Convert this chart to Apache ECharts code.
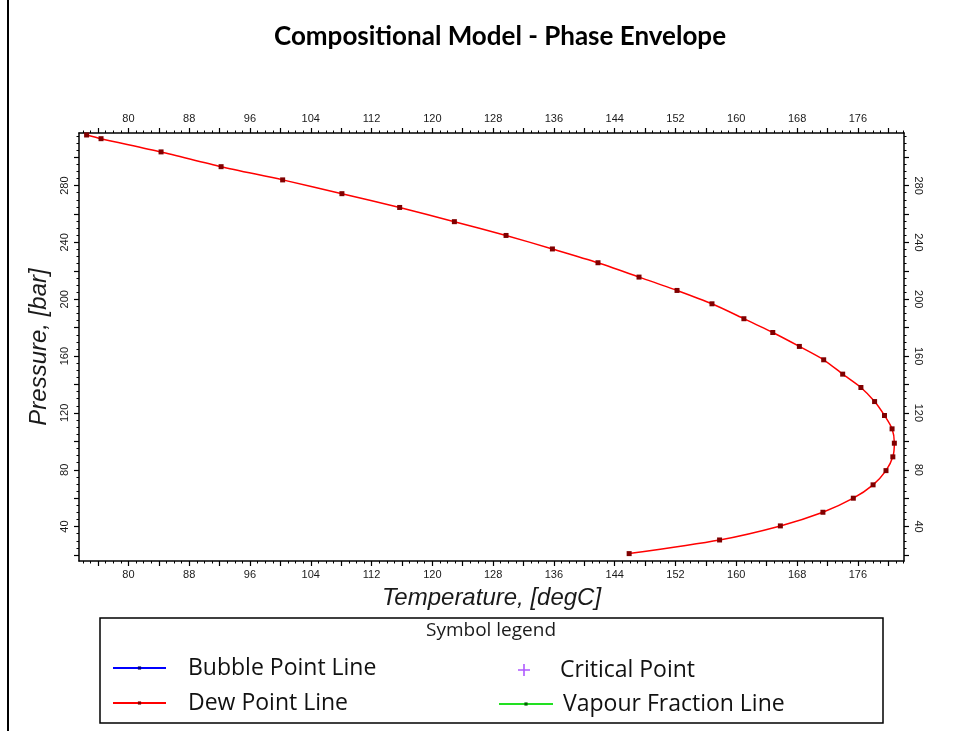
<!DOCTYPE html>
<html>
<head>
<meta charset="utf-8">
<script src="https://cdn.jsdelivr.net/npm/echarts@6/dist/echarts.min.js"></script>
<style>
  html, body { margin: 0; padding: 0; background: #ffffff; }
  #chart { width: 955px; height: 731px; }
</style>
</head>
<body>
<div id="chart"></div>
<script>
// Dew point line of the phase envelope, from the low-pressure end round the cricondentherm
const dewTemperature = [145.9, 157.8, 165.8, 171.4, 175.4, 178.0, 179.7, 180.6, 180.8, 180.5,
  179.5, 178.2, 176.4, 174.0, 171.5, 168.3, 164.8, 161.0, 156.8, 152.2, 147.2, 141.8, 135.8,
  129.7, 122.9, 115.7, 108.1, 100.3, 92.2, 84.3, 76.4, 74.5];
const dewPressure = [21.0, 30.6, 40.5, 50.1, 60.0, 69.4, 79.4, 89.1, 98.7, 108.8,
  118.2, 128.0, 137.9, 147.3, 157.4, 166.8, 176.6, 186.3, 196.8, 206.2, 215.6, 225.7, 235.4,
  244.9, 254.6, 264.6, 274.3, 284.0, 293.3, 303.7, 313.0, 315.6];

// Series listed in the symbol legend that carry no points in this envelope
const bubbleTemperature = [];
const bubblePressure = [];
const criticalTemperature = [];
const criticalPressure = [];
const vapourTemperature = [];
const vapourPressure = [];

// Axis ranges and tick values
const tempRange = [73.5, 182.07];
const pressRange = [15.8, 317.0];
const tempMajorTicks = [76, 80, 84, 88, 92, 96, 100, 104, 108, 112, 116, 120, 124, 128, 132,
  136, 140, 144, 148, 152, 156, 160, 164, 168, 172, 176, 180];
const tempLabels = [80, 88, 96, 104, 112, 120, 128, 136, 144, 152, 160, 168, 176];
const pressMajorTicks = [20, 40, 60, 80, 100, 120, 140, 160, 180, 200, 220, 240, 260, 280, 300];
const pressLabels = [40, 80, 120, 160, 200, 240, 280];
const tempMinorStep = 1;
const pressMinorStep = 5;

function stepValues(range, step) {
  const out = [];
  for (let v = Math.ceil(range[0] / step) * step; v <= range[1]; v += step) out.push(v);
  return out;
}
const tempMinorTicks = stepValues(tempRange, tempMinorStep);
const pressMinorTicks = stepValues(pressRange, pressMinorStep);

const pair = (xs, ys) => xs.map((x, i) => [x, ys[i]]);

const tickFont = { fontFamily: 'Liberation Sans', fontSize: 11, color: '#1a1a1a' };
const axisLine = { show: true, lineStyle: { color: '#000', width: 1.5 } };
const axisNameStyle = { fontFamily: 'Liberation Sans', fontStyle: 'italic', fontSize: 24, color: '#1a1a1a' };

function mainAxis(range, position, ticks, labels, labelExtra) {
  return {
    type: 'value', position, min: range[0], max: range[1],
    axisLine,
    axisTick: { show: true, customValues: ticks, length: 5, lineStyle: { color: '#000', width: 1.2 } },
    axisLabel: Object.assign({ customValues: labels }, tickFont, labelExtra),
    splitLine: { show: false }
  };
}
function minorAxis(range, position, ticks) {
  return {
    type: 'value', position, min: range[0], max: range[1],
    axisLine: { show: false },
    axisTick: { show: true, customValues: ticks, length: 2.5, lineStyle: { color: '#000', width: 1 } },
    axisLabel: { show: false },
    splitLine: { show: false }
  };
}

const xBottom = mainAxis(tempRange, 'bottom', tempMajorTicks, tempLabels, { margin: 8 });
Object.assign(xBottom, {
  name: 'Temperature, [degC]', nameLocation: 'middle', nameGap: 25, nameTextStyle: axisNameStyle
});
const yLeft = mainAxis(pressRange, 'left', pressMajorTicks, pressLabels, { margin: 9, rotate: 90 });
Object.assign(yLeft, {
  name: 'Pressure, [bar]', nameLocation: 'middle', nameGap: 25, nameTextStyle: axisNameStyle
});

const chart = echarts.init(document.getElementById('chart'), null, { renderer: 'canvas' });

const legendText = { fontFamily: 'Open Sans', fontSize: 23, color: '#111111', lineHeight: 28 };
// Plus marker used for the critical point
const plusIcon = 'path://M5.2,0 L6.8,0 L6.8,5.2 L12,5.2 L12,6.8 L6.8,6.8 L6.8,12 L5.2,12 L5.2,6.8 L0,6.8 L0,5.2 L5.2,5.2 Z';

chart.setOption({
  backgroundColor: '#ffffff',
  animation: false,
  grid: { left: 79, right: 51, top: 133, bottom: 170, containLabel: false, outerBoundsMode: 'none' },
  xAxis: [
    xBottom,
    mainAxis(tempRange, 'top', tempMajorTicks, tempLabels, { margin: 9 }),
    minorAxis(tempRange, 'bottom', tempMinorTicks),
    minorAxis(tempRange, 'top', tempMinorTicks)
  ],
  yAxis: [
    yLeft,
    mainAxis(pressRange, 'right', pressMajorTicks, pressLabels, { margin: 9, rotate: -90 }),
    minorAxis(pressRange, 'left', pressMinorTicks),
    minorAxis(pressRange, 'right', pressMinorTicks)
  ],
  legend: [
    {
      orient: 'vertical', left: 107, top: 649, itemWidth: 53, itemHeight: 4, itemGap: 7,
      selectedMode: false, data: ['Bubble Point Line', 'Dew Point Line'],
      textStyle: Object.assign({ padding: [0, 0, 0, 17] }, legendText)
    },
    {
      orient: 'vertical', left: 513, top: 651, itemWidth: 12, itemHeight: 12,
      selectedMode: false, data: [{ name: 'Critical Point', icon: plusIcon }],
      textStyle: Object.assign({ padding: [0, 0, 0, 25] }, legendText)
    },
    {
      orient: 'vertical', left: 493, top: 685, itemWidth: 54, itemHeight: 4,
      selectedMode: false, data: ['Vapour Fraction Line'],
      textStyle: Object.assign({ padding: [0, 0, 0, 5] }, legendText)
    }
  ],
  graphic: [
    { type: 'line', shape: { x1: 8, y1: 0, x2: 8, y2: 731 }, style: { stroke: '#000', lineWidth: 2 } },
    {
      type: 'text', x: 500, y: 37,
      style: { text: 'Compositional Model - Phase Envelope', align: 'center', verticalAlign: 'middle',
        font: 'bold 26px Lato', fill: '#000' }
    },
    { type: 'rect', shape: { x: 100, y: 618, width: 783, height: 105 },
      style: { fill: 'none', stroke: '#000', lineWidth: 1.5 } },
    {
      type: 'text', x: 491, y: 631,
      style: { text: 'Symbol legend', align: 'center', verticalAlign: 'middle',
        font: '19px "Open Sans"', fill: '#1a1a1a' }
    }
  ],
  series: [
    {
      name: 'Bubble Point Line', type: 'line', data: pair(bubbleTemperature, bubblePressure),
      symbol: 'rect', symbolSize: 4, lineStyle: { color: '#0000ff', width: 1.5 },
      itemStyle: { color: '#00007a' }
    },
    {
      name: 'Dew Point Line', type: 'line', data: pair(dewTemperature, dewPressure),
      smooth: 0.25, symbol: 'rect', symbolSize: 5, showAllSymbol: true,
      lineStyle: { color: '#ff0000', width: 1.5 },
      itemStyle: { color: '#800000' }
    },
    {
      name: 'Critical Point', type: 'scatter', data: pair(criticalTemperature, criticalPressure),
      symbol: plusIcon, symbolSize: 12, itemStyle: { color: '#9b30ff' }
    },
    {
      name: 'Vapour Fraction Line', type: 'line', data: pair(vapourTemperature, vapourPressure),
      symbol: 'rect', symbolSize: 4, lineStyle: { color: '#22e022', width: 1.5 },
      itemStyle: { color: '#006400' }
    }
  ]
});
</script>
</body>
</html>
